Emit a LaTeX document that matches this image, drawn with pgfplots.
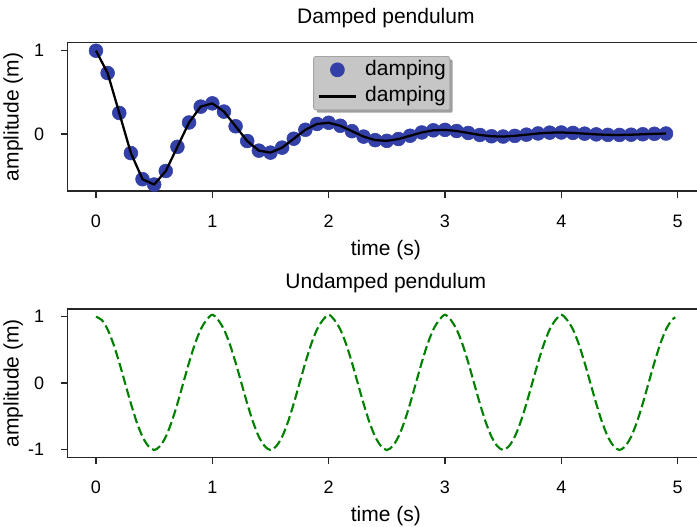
\documentclass[border=0pt]{standalone}
\usepackage{fontspec}
\setmainfont{Liberation Sans}
\usepackage{pgfplots}
\usepackage{pgfplotstable}
\pgfplotsset{compat=1.18}
\usetikzlibrary{shadows}

\definecolor{dotblue}{RGB}{50,64,168}
\definecolor{dashgreen}{RGB}{0,128,0}
\definecolor{leggray}{RGB}{198,198,198}
\definecolor{legedge}{RGB}{165,165,165}

\newcommand{\tickfont}{\fontsize{13.5}{16}\selectfont}

% damped: sampled every 0.1 s
\pgfplotstableread{
t y
0.0 1.0000
0.1 0.7320
0.2 0.2530
0.3 -0.2289
0.4 -0.5423
0.5 -0.6065
0.6 -0.4440
0.7 -0.1534
0.8 0.1388
0.9 0.3289
1.0 0.3679
1.1 0.2693
1.2 0.0931
1.3 -0.0842
1.4 -0.1995
1.5 -0.2231
1.6 -0.1633
1.7 -0.0564
1.8 0.0511
1.9 0.1210
2.0 0.1353
2.1 0.0991
2.2 0.0342
2.3 -0.0310
2.4 -0.0734
2.5 -0.0821
2.6 -0.0601
2.7 -0.0208
2.8 0.0188
2.9 0.0445
3.0 0.0498
3.1 0.0364
3.2 0.0126
3.3 -0.0114
3.4 -0.0270
3.5 -0.0302
3.6 -0.0221
3.7 -0.0076
3.8 0.0069
3.9 0.0164
4.0 0.0183
4.1 0.0134
4.2 0.0046
4.3 -0.0042
4.4 -0.0099
4.5 -0.0111
4.6 -0.0081
4.7 -0.0028
4.8 0.0025
4.9 0.0060
}\damped

% undamped: every 0.05 s
\pgfplotstableread{
t y
0.00 1.0000
0.05 0.9511
0.10 0.8090
0.15 0.5878
0.20 0.3090
0.25 0.0000
0.30 -0.3090
0.35 -0.5878
0.40 -0.8090
0.45 -0.9511
0.50 -1.0100
0.55 -0.9511
0.60 -0.8090
0.65 -0.5878
0.70 -0.3090
0.75 0.0000
0.80 0.3090
0.85 0.5878
0.90 0.8090
0.95 0.9511
1.00 1.0300
1.05 0.9511
1.10 0.8090
1.15 0.5878
1.20 0.3090
1.25 0.0000
1.30 -0.3090
1.35 -0.5878
1.40 -0.8090
1.45 -0.9511
1.50 -1.0100
1.55 -0.9511
1.60 -0.8090
1.65 -0.5878
1.70 -0.3090
1.75 0.0000
1.80 0.3090
1.85 0.5878
1.90 0.8090
1.95 0.9511
2.00 1.0300
2.05 0.9511
2.10 0.8090
2.15 0.5878
2.20 0.3090
2.25 0.0000
2.30 -0.3090
2.35 -0.5878
2.40 -0.8090
2.45 -0.9511
2.50 -1.0100
2.55 -0.9511
2.60 -0.8090
2.65 -0.5878
2.70 -0.3090
2.75 0.0000
2.80 0.3090
2.85 0.5878
2.90 0.8090
2.95 0.9511
3.00 1.0300
3.05 0.9511
3.10 0.8090
3.15 0.5878
3.20 0.3090
3.25 0.0000
3.30 -0.3090
3.35 -0.5878
3.40 -0.8090
3.45 -0.9511
3.50 -1.0100
3.55 -0.9511
3.60 -0.8090
3.65 -0.5878
3.70 -0.3090
3.75 0.0000
3.80 0.3090
3.85 0.5878
3.90 0.8090
3.95 0.9511
4.00 1.0300
4.05 0.9511
4.10 0.8090
4.15 0.5878
4.20 0.3090
4.25 0.0000
4.30 -0.3090
4.35 -0.5878
4.40 -0.8090
4.45 -0.9511
4.50 -1.0100
4.55 -0.9511
4.60 -0.8090
4.65 -0.5878
4.70 -0.3090
4.75 0.0000
4.80 0.3090
4.85 0.5878
4.90 0.8090
4.95 0.9511
4.98 0.9921
}\undamped

\pgfplotsset{
  pend/.style={
    scale only axis, width=477.6pt, height=111.2pt,
    xmin=-0.245, xmax=5.229,
    xtick={0,1,2,3,4,5},
    tick pos=left, tick align=outside, major tick length=5pt,
    axis line style={black!85, line width=0.9pt},
    tick style={black!85, line width=0.9pt},
    clip marker paths=true,
    /pgf/number format/assume math mode=true,
    xticklabel={\tickfont\pgfmathprintnumber{\tick}},
    yticklabel={\tickfont\pgfmathprintnumber{\tick}},
    xticklabel style={yshift=-9.5pt},
    yticklabel style={xshift=-8.9pt},
    every axis x label/.style={at={(axis description cs:0.5,0)}, anchor=base,
      yshift=-48pt, font=\fontsize{15.75}{19}\selectfont},
    every axis y label/.style={at={(axis description cs:-0.0768,0.5)}, rotate=90,
      anchor=base, font=\fontsize{15.75}{19}\selectfont},
    every axis title/.style={font=\fontsize{15.75}{19}\selectfont,
      at={(axis description cs:0.5,1)}, anchor=base},
    xlabel={time (s)}, ylabel={amplitude (m)},
  }
}

\begin{document}
\begin{tikzpicture}
\begin{axis}[pend,
    at={(50.62pt,251.25pt)}, anchor=south west,
    ymin=-0.684, ymax=1.096, ytick={0,1},
    title={Damped pendulum}, title style={yshift=14.5pt},
    legend image code/.code={\draw[mark repeat=2,mark phase=2,
      every shadow/.style={opacity=0},#1] plot coordinates {(0pt,0pt) (14pt,0pt) (28pt,0pt)};},
    legend style={at={(axis description cs:0.4934,0.910)}, anchor=north,
      fill=leggray, draw=legedge, line width=0.6pt, rounded corners=1.5pt,
      drop shadow={shadow xshift=2.2pt, shadow yshift=-2.2pt, fill=black!75},
      font=\fontsize{15.75}{19}\selectfont,
      inner xsep=3pt, inner ysep=2.5pt, row sep=5pt, column sep=6pt,
      nodes={inner sep=0pt, text height=11.5pt, text depth=3.5pt}},
    legend cell align=left,
  ]
  \addplot[only marks, color=dotblue, mark=*, mark size=5.2pt,
    mark options={draw=none, fill=dotblue}] table {\damped};
  \addlegendentry{damping}
  \addplot[black, line width=1.7pt, line join=round, mark=none] table {\damped};
  \addlegendentry{damping}
\end{axis}

\begin{axis}[pend,
    at={(50.62pt,51.5pt)}, anchor=south west,
    ymin=-1.12, ymax=1.116, ytick={-1,0,1},
    title={Undamped pendulum}, title style={yshift=15.75pt},
  ]
  \addplot[dashgreen, line width=1.6pt, dash pattern=on 7pt off 3pt,
    smooth, mark=none] table {\undamped};
\end{axis}

\pgfresetboundingbox
\path[use as bounding box] (0,0) rectangle (522.75pt,394.5pt);
\end{tikzpicture}
\end{document}
